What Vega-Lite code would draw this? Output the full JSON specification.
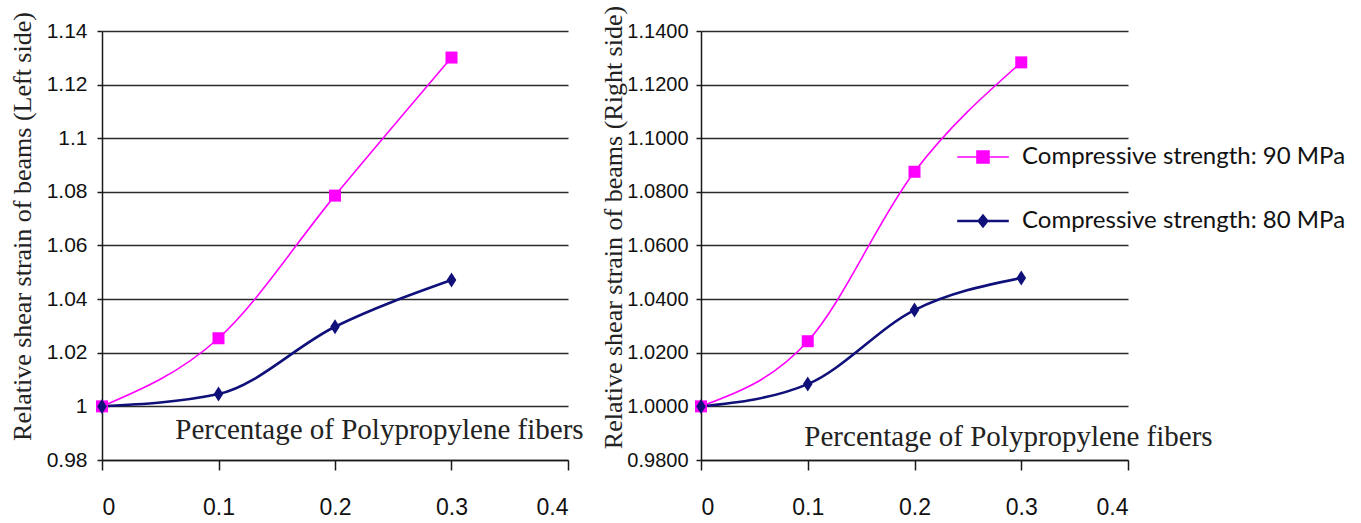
{
  "$schema": "https://vega.github.io/schema/vega-lite/v6.json",
  "background": "white",
  "padding": {"left": 8, "top": 5, "right": 5, "bottom": 2},
  "bounds": "flush",
  "spacing": 133,
  "data": {
    "values": [
      {"panel": "L", "fiber": 0, "strain": 1.0, "series": "Compressive strength: 90 MPa"},
      {"panel": "L", "fiber": 0.1, "strain": 1.0254, "series": "Compressive strength: 90 MPa"},
      {"panel": "L", "fiber": 0.2, "strain": 1.0786, "series": "Compressive strength: 90 MPa"},
      {"panel": "L", "fiber": 0.3, "strain": 1.1301, "series": "Compressive strength: 90 MPa"},
      {"panel": "L", "fiber": 0, "strain": 1.0, "series": "Compressive strength: 80 MPa"},
      {"panel": "L", "fiber": 0.1, "strain": 1.0046, "series": "Compressive strength: 80 MPa"},
      {"panel": "L", "fiber": 0.2, "strain": 1.0297, "series": "Compressive strength: 80 MPa"},
      {"panel": "L", "fiber": 0.3, "strain": 1.0471, "series": "Compressive strength: 80 MPa"},
      {"panel": "R", "fiber": 0, "strain": 1.0, "series": "Compressive strength: 90 MPa"},
      {"panel": "R", "fiber": 0.1, "strain": 1.0243, "series": "Compressive strength: 90 MPa"},
      {"panel": "R", "fiber": 0.2, "strain": 1.0875, "series": "Compressive strength: 90 MPa"},
      {"panel": "R", "fiber": 0.3, "strain": 1.1283, "series": "Compressive strength: 90 MPa"},
      {"panel": "R", "fiber": 0, "strain": 1.0, "series": "Compressive strength: 80 MPa"},
      {"panel": "R", "fiber": 0.1, "strain": 1.0083, "series": "Compressive strength: 80 MPa"},
      {"panel": "R", "fiber": 0.2, "strain": 1.0359, "series": "Compressive strength: 80 MPa"},
      {"panel": "R", "fiber": 0.3, "strain": 1.0479, "series": "Compressive strength: 80 MPa"}
    ]
  },
  "config": {
    "view": {"stroke": null},
    "axis": {
      "domainColor": "#1a1a1a",
      "domainWidth": 1.5,
      "tickColor": "#1a1a1a",
      "tickWidth": 1.5,
      "gridColor": "#2a2a2a",
      "gridWidth": 1.5,
      "labelColor": "#111",
      "titleColor": "#222",
      "titleFontWeight": "normal",
      "labelFont": "Liberation Sans, Arial, sans-serif",
      "titleFont": "Liberation Serif, serif"
    }
  },
  "resolve": {"scale": {"y": "independent", "color": "independent", "strokeWidth": "independent"}},
  "hconcat": [
    {
      "width": 466,
      "height": 429,
      "transform": [{"filter": "datum.panel == 'L'"}],
      "encoding": {
        "x": {
          "field": "fiber", "type": "quantitative",
          "scale": {"domain": [0, 0.4], "nice": false},
          "axis": {
            "values": [0, 0.1, 0.2, 0.3, 0.4], "format": ".1~f", "grid": false,
            "tickSize": 10, "labelPadding": 26, "labelFontSize": 23,
            "title": "Percentage of Polypropylene fibers", "titleFontSize": 29,
            "titleX": 277, "titleY": -22, "titleBaseline": "alphabetic", "titleAnchor": null, "titleAlign": "center"
          }
        },
        "y": {
          "field": "strain", "type": "quantitative",
          "scale": {"domain": [0.98, 1.14], "zero": false, "nice": false},
          "axis": {
            "values": [0.98, 1.0, 1.02, 1.04, 1.06, 1.08, 1.1, 1.12, 1.14], "format": ".3~g",
            "tickSize": 5, "labelPadding": 10, "labelFontSize": 21,
            "title": "Relative shear strain of beams (Left side)", "titleFontSize": 26,
            "titleAngle": -90, "titleX": -80, "titleY": 195, "titleBaseline": "middle", "titleAlign": "center"
          }
        },
        "color": {
          "field": "series", "type": "nominal",
          "scale": {"domain": ["Compressive strength: 90 MPa", "Compressive strength: 80 MPa"], "range": ["#ff00ff", "#10107a"]},
          "legend": null
        }
      },
      "layer": [
        {
          "mark": {"type": "line", "interpolate": "monotone"},
          "encoding": {
            "strokeWidth": {"field": "series", "type": "nominal", "scale": {"domain": ["Compressive strength: 90 MPa", "Compressive strength: 80 MPa"], "range": [1.6, 2.6]}, "legend": null}
          }
        },
        {
          "transform": [{"filter": "datum.series == 'Compressive strength: 90 MPa'"}],
          "mark": {"type": "point", "shape": "square", "filled": true, "opacity": 1, "size": 144}
        },
        {
          "transform": [{"filter": "datum.series == 'Compressive strength: 80 MPa'"}],
          "mark": {"type": "point", "shape": "M0,-1.25L0.8,0L0,1.25L-0.8,0Z", "filled": true, "opacity": 1, "size": 144}
        }
      ]
    },
    {
      "width": 427,
      "height": 429,
      "transform": [{"filter": "datum.panel == 'R'"}],
      "encoding": {
        "x": {
          "field": "fiber", "type": "quantitative",
          "scale": {"domain": [0, 0.4], "nice": false},
          "axis": {
            "values": [0, 0.1, 0.2, 0.3, 0.4], "format": ".1~f", "grid": false,
            "tickSize": 10, "labelPadding": 26, "labelFontSize": 23,
            "title": "Percentage of Polypropylene fibers", "titleFontSize": 29,
            "titleX": 307, "titleY": -15, "titleBaseline": "alphabetic", "titleAnchor": null, "titleAlign": "center"
          }
        },
        "y": {
          "field": "strain", "type": "quantitative",
          "scale": {"domain": [0.98, 1.14], "zero": false, "nice": false},
          "axis": {
            "values": [0.98, 1.0, 1.02, 1.04, 1.06, 1.08, 1.1, 1.12, 1.14], "format": ".4f",
            "tickSize": 5, "labelPadding": 8, "labelFontSize": 20,
            "title": "Relative shear strain of beams (Right side)", "titleFontSize": 26,
            "titleAngle": -90, "titleX": -88, "titleY": 196, "titleBaseline": "middle", "titleAlign": "center"
          }
        },
        "color": {
          "field": "series", "type": "nominal",
          "scale": {"domain": ["Compressive strength: 90 MPa", "Compressive strength: 80 MPa"], "range": ["#ff00ff", "#10107a"]},
          "legend": {
            "orient": "none", "legendX": 270, "legendY": 114, "title": null, "padding": 0,
            "labelFont": "Lato, Open Sans, sans-serif", "labelFontSize": 24, "labelColor": "#111", "labelLimit": 0,
            "symbolSize": 144, "labelOffset": 27, "rowPadding": 40,
            "encode": {
              "symbols": {
                "update": {
                  "shape": {"signal": "datum.value === 'Compressive strength: 90 MPa' ? 'M-4.3,0H4.3M-1,-1H1V1H-1Z' : 'M-4.3,0H4.3M0,-0.85L0.7,0L0,0.85L-0.7,0Z'"},
                  "fill": {"signal": "datum.value === 'Compressive strength: 90 MPa' ? '#ff00ff' : '#10107a'"},
                  "stroke": {"signal": "datum.value === 'Compressive strength: 90 MPa' ? '#ff00ff' : '#10107a'"},
                  "strokeWidth": {"signal": "datum.value === 'Compressive strength: 90 MPa' ? 1.6 : 2.6"},
                  "opacity": {"value": 1}
                }
              }
            }
          }
        }
      },
      "layer": [
        {
          "mark": {"type": "line", "interpolate": "monotone"},
          "encoding": {
            "strokeWidth": {"field": "series", "type": "nominal", "scale": {"domain": ["Compressive strength: 90 MPa", "Compressive strength: 80 MPa"], "range": [1.6, 2.6]}, "legend": null}
          }
        },
        {
          "transform": [{"filter": "datum.series == 'Compressive strength: 90 MPa'"}],
          "mark": {"type": "point", "shape": "square", "filled": true, "opacity": 1, "size": 144}
        },
        {
          "transform": [{"filter": "datum.series == 'Compressive strength: 80 MPa'"}],
          "mark": {"type": "point", "shape": "M0,-1.25L0.8,0L0,1.25L-0.8,0Z", "filled": true, "opacity": 1, "size": 144}
        }
      ]
    }
  ]
}
